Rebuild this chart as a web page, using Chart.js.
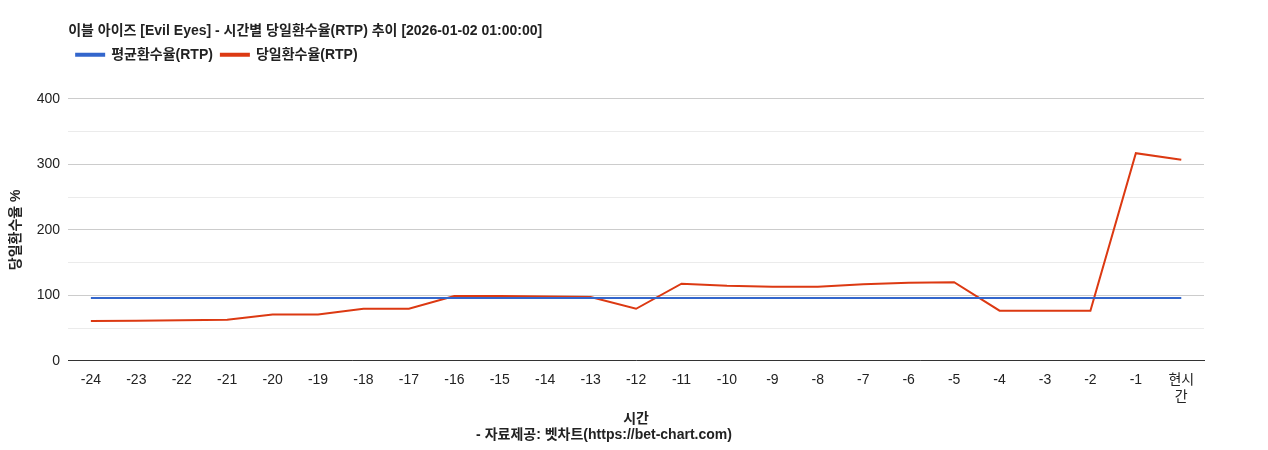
<!DOCTYPE html>
<html>
<head>
<meta charset="utf-8">
<script src="https://cdn.jsdelivr.net/npm/chart.js@4"></script>
<style>
  body { margin: 0; background: #fff; }
  #wrap { width: 1268px; height: 450px; }
</style>
</head>
<body>
<div id="wrap"><canvas id="myChart"></canvas></div>
<script>
const hourLabels = ["-24","-23","-22","-21","-20","-19","-18","-17","-16","-15","-14","-13","-12","-11","-10","-9","-8","-7","-6","-5","-4","-3","-2","-1",["현시","간"]];
const avgRtp = [96,96,96,96,96,96,96,96,96,96,96,96,96,96,96,96,96,96,96,96,96,96,96,96,96];
const dailyRtp = [60.6,61,62,62.5,70.8,70.8,79.4,79.4,99,99,98,97.5,79.4,117.7,114.5,113,113,117,119,120,76.5,76.5,76.5,317,307];

const fontFamily = "'Liberation Sans', 'Noto Sans CJK KR', sans-serif";
Chart.defaults.font.family = fontFamily;
Chart.defaults.color = "#222";

//Line up title and legend with the plot area, leave room below legend
const headerPlugin = {
  id: "header",
  afterInit(chart) {
    const orig = chart.legend.fit;
    chart.legend.fit = function () {
      orig.call(this);
      this.height += 27;
    };
  },
  afterLayout(chart) {
    const shift = chart.chartArea.left - chart.titleBlock.left;
    chart.titleBlock.left += shift;
    chart.legend.left += shift;
  },
};

var ctx = document.getElementById("myChart");
new Chart(ctx, {
  type: "line",
  data: {
    labels: hourLabels,
    datasets: [
      {
        label: "평균환수율(RTP)",
        data: avgRtp,
        borderColor: "#3366cc",
        backgroundColor: "#3366cc",
        borderWidth: 2,
        pointRadius: 0,
        tension: 0,
      },
      {
        label: "당일환수율(RTP)",
        data: dailyRtp,
        borderColor: "#dc3912",
        backgroundColor: "#dc3912",
        borderWidth: 2,
        pointRadius: 0,
        tension: 0,
      },
    ],
  },
  plugins: [headerPlugin],
  options: {
    responsive: true,
    maintainAspectRatio: false,
    animation: false,
    layout: { padding: { left: 4, right: 64, top: 23, bottom: 6 } },
    scales: {
      x: {
        offset: true,
        grid: { display: false },
        border: { color: "#333" },
        ticks: { font: { size: 14 }, color: "#222", maxRotation: 0, autoSkip: false },
        title: { display: true, text: "시간", font: { size: 14, weight: "bold" }, color: "#222", padding: { top: 2, bottom: 0 } },
      },
      y: {
        min: 0,
        max: 400,
        ticks: {
          stepSize: 50,
          padding: 8,
          font: { size: 14 },
          color: "#222",
          callback: (v) => (v % 100 == 0 ? v : ""),
        },
        border: { display: false },
        grid: {
          color: (c) => (c.tick && c.tick.value % 100 == 0 ? "#cccccc" : "#ebebeb"),
          drawTicks: false,
        },
        title: { display: true, text: "당일환수율 %", font: { size: 14, weight: "bold" }, color: "#222" },
      },
    },
    plugins: {
      title: {
        display: true,
        text: "이블 아이즈 [Evil Eyes] - 시간별 당일환수율(RTP) 추이 [2026-01-02 01:00:00]",
        align: "start",
        font: { size: 14, weight: "bold" },
        color: "#222",
        padding: { top: 0, bottom: 0 },
      },
      legend: {
        align: "start",
        labels: { boxWidth: 28, boxHeight: 2, font: { size: 14, weight: "bold" }, color: "#222", padding: 8 },
      },
      subtitle: {
        display: true,
        position: "bottom",
        text: "- 자료제공: 벳차트(https://bet-chart.com)",
        font: { size: 14, weight: "bold" },
        color: "#222",
        padding: { top: 0, bottom: 0 },
      },
    },
  },
});
</script>
</body>
</html>
